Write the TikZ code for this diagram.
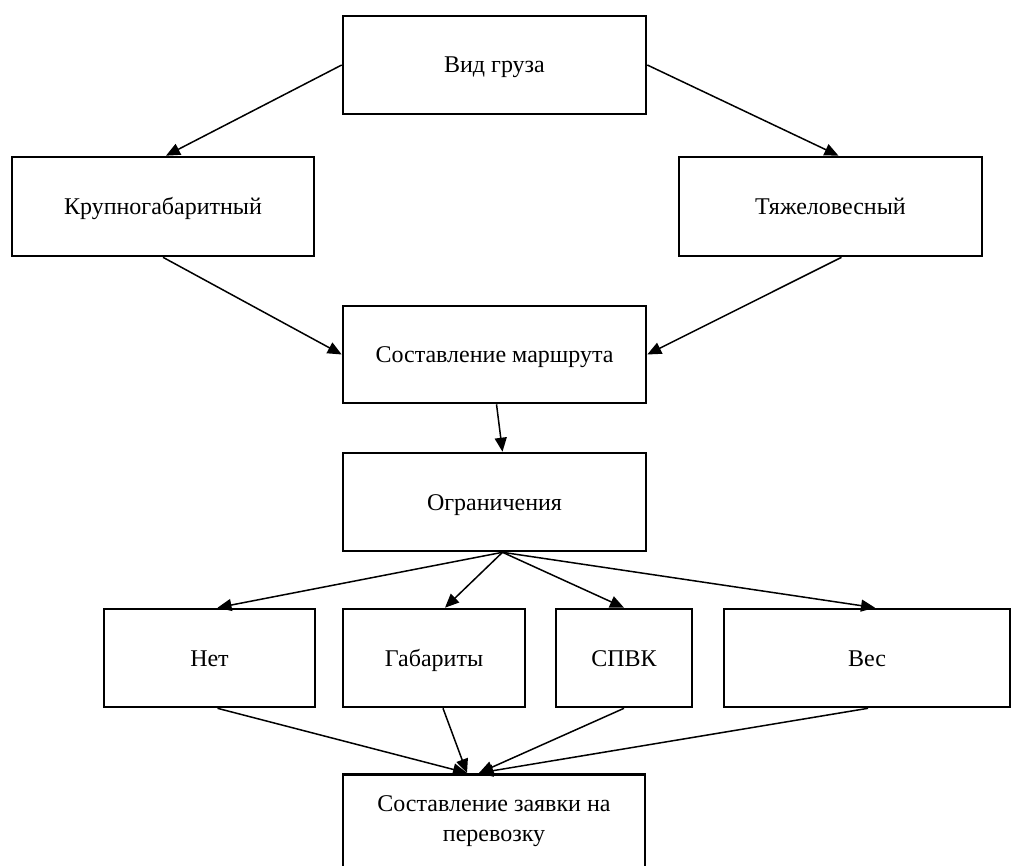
\documentclass[tikz,border=0pt]{standalone}
\usepackage{fontspec}
\setmainfont{Liberation Serif}
\usetikzlibrary{arrows.meta}
\begin{document}
\begin{tikzpicture}[x=1pt,y=-1pt,
  box/.style={draw, line width=2.6pt, inner sep=0pt, align=center,
              text height=16pt, text depth=0pt,
              font=\fontsize{24}{30}\selectfont},
  label text/.style={inner sep=0pt, align=center, font=\fontsize{24}{30}\selectfont},
  link/.style={line width=1.5pt, -{Triangle[length=14pt,width=12pt]}}]
\useasboundingbox (0,0) rectangle (1012,866);
\clip (0,0) rectangle (1012,866);

% boxes
\node[box, minimum width=303pt, minimum height=98pt] (vid)    at (494.5,65)   {Вид груза};
\node[box, minimum width=302pt, minimum height=99pt] (krup)   at (163,206.5)  {Крупногабаритный};
\node[box, minimum width=303pt, minimum height=99pt] (tyazh)  at (830.5,206.5){Тяжеловесный};
\node[box, minimum width=303pt, minimum height=97pt] (marsh)  at (494.5,354.5){Составление маршрута};
\node[box, minimum width=303pt, minimum height=98pt] (ogr)    at (494.5,502)  {Ограничения};
\node[box, minimum width=211pt, minimum height=98pt] (net)    at (209.5,658)  {Нет};
\node[box, minimum width=182pt, minimum height=98pt] (gab)    at (434,658)    {Габариты};
\node[box, minimum width=136pt, minimum height=98pt] (spvk)   at (624,658)    {СПВК};
\node[box, minimum width=286pt, minimum height=98pt] (ves)    at (867,658)    {Вес};
\node[box, minimum width=302pt, minimum height=120pt, anchor=north] (zayav) at (494,773) {};
\node[label text] (zayavtext) at (494,821) {Составление заявки на\\перевозку};

% connectors
\draw[link] (vid.west) -- ([xshift=3pt]krup.north);
\draw[link] (vid.east) -- ([xshift=8pt]tyazh.north);
\draw[link] (krup.south) -- (marsh.west);
\draw[link] ([xshift=11pt]tyazh.south) -- (marsh.east);
\draw[link] ([xshift=2pt]marsh.south) -- ([xshift=8pt]ogr.north);

\draw[link] ([xshift=8pt]ogr.south) -- ([xshift=8pt]net.north);
\draw[link] ([xshift=8pt]ogr.south) -- ([xshift=11pt]gab.north);
\draw[link] ([xshift=8pt]ogr.south) -- (spvk.north);
\draw[link] ([xshift=8pt]ogr.south) -- ([xshift=8pt]ves.north);

\draw[link] ([xshift=8pt]net.south) -- ([xshift=-27pt]zayav.north);
\draw[link] ([xshift=9pt]gab.south) -- ([xshift=-27pt]zayav.north);
\draw[link] (spvk.south) -- ([xshift=-15pt]zayav.north);
\draw[link] ([xshift=1pt]ves.south) -- ([xshift=-15pt]zayav.north);
\end{tikzpicture}
\end{document}
